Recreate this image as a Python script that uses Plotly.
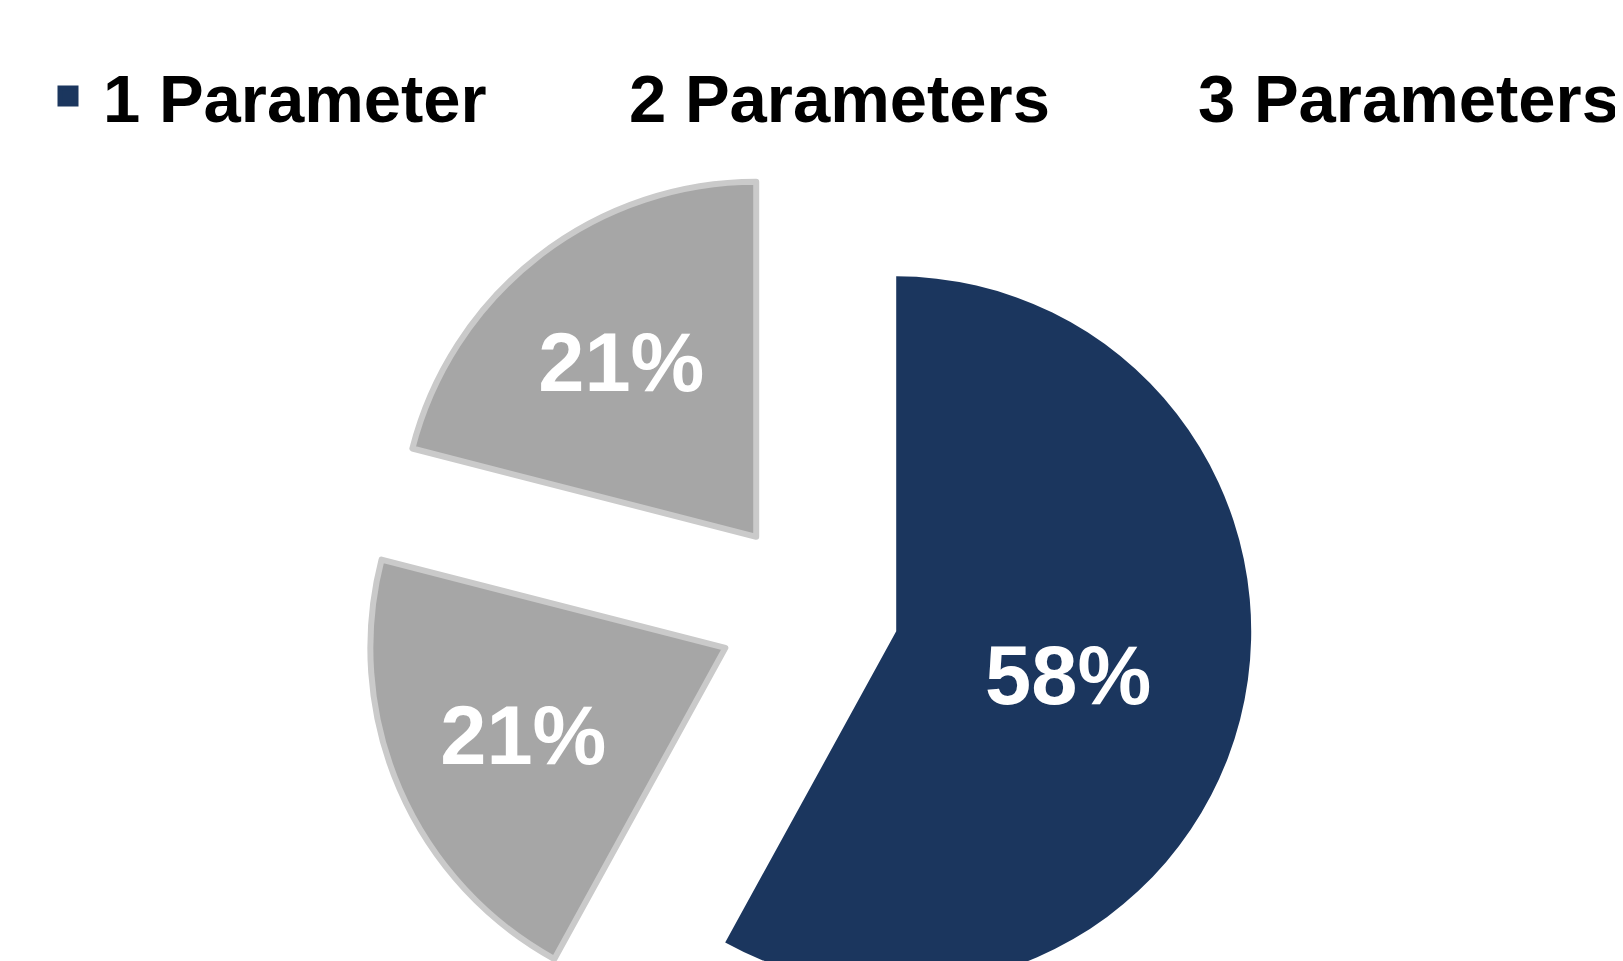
import plotly.graph_objects as go

categories = ["1 Parameter", "2 Parameters", "3 Parameters"]
shares = [58, 21, 21]
slice_colors = ["#1B365E", "#A6A6A6", "#A6A6A6"]
edge_colors = ["#1B365E", "#CACACA", "#CACACA"]
edge_widths = [0, 6, 6]
pulls = [0.242, 0.269, 0.261]
legend_marker_colors = ["#1B365E", "rgba(0,0,0,0)", "rgba(0,0,0,0)"]
legend_widths = [451, 494, 420]

W, H = 1615, 1100
FONT = "Liberation Sans, Arial, sans-serif"

# pie box (pixels, figure coordinates)
cx, cy, box = 805, 602, 901
dom_x = [(cx - box / 2) / W, (cx + box / 2) / W]
dom_y = [(H - (cy + box / 2)) / H, (H - (cy - box / 2)) / H]

fig = go.Figure()

fig.add_trace(go.Pie(
    labels=categories,
    values=shares,
    sort=False,
    direction="clockwise",
    rotation=0,
    pull=pulls,
    marker=dict(colors=slice_colors,
                line=dict(color=edge_colors, width=edge_widths)),
    textinfo="percent",
    textposition="inside",
    insidetextorientation="horizontal",
    textfont=dict(family=FONT, size=83, color="white", weight="bold"),
    showlegend=False,
    hoverinfo="label+percent",
    domain=dict(x=dom_x, y=dom_y),
))

for name, col, lw in zip(categories, legend_marker_colors, legend_widths):
    fig.add_trace(go.Scatter(
        x=[None], y=[None], mode="markers", name=name,
        marker=dict(symbol="square", size=16, color=col,
                    line=dict(color=col, width=5)),
        legendwidth=lw,
        hoverinfo="skip",
    ))

fig.update_layout(
    width=W, height=H,
    margin=dict(l=0, r=0, t=0, b=0, autoexpand=False),
    paper_bgcolor="white",
    plot_bgcolor="white",
    xaxis=dict(visible=False),
    yaxis=dict(visible=False),
    legend=dict(
        orientation="h",
        x=25 / W, xanchor="left",
        y=1 - 38 / H, yanchor="top",
        itemwidth=60,
        font=dict(family=FONT, size=67, color="black", weight="bold"),
        bgcolor="rgba(0,0,0,0)",
        itemclick=False, itemdoubleclick=False,
    ),
)

fig.write_html("out.html")
